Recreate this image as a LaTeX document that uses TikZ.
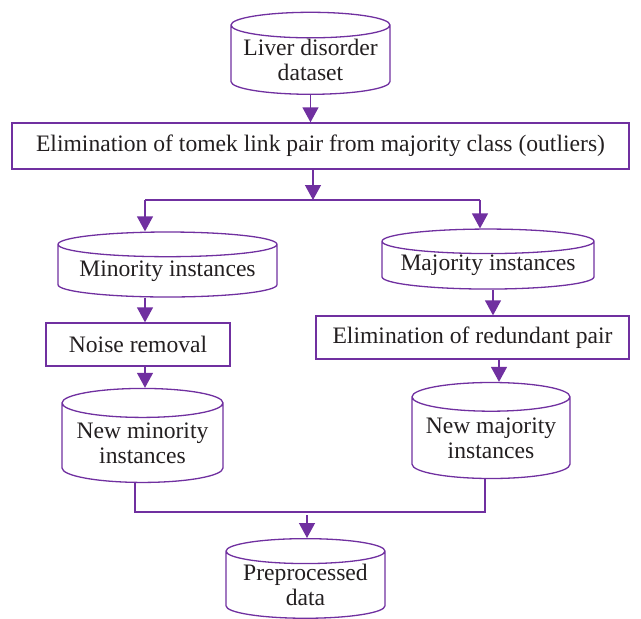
\documentclass[tikz,border=0pt]{standalone}
\usepackage{fontspec}
\setmainfont{Liberation Serif}
\usetikzlibrary{shapes.geometric,arrows.meta}
\definecolor{vio}{RGB}{112,48,160}
\definecolor{ink}{RGB}{35,31,32}

\begin{document}
\begin{tikzpicture}[x=1pt,y=-1pt,
    font=\fontsize{23.6}{25}\selectfont,
    every node/.style={text=ink, align=center},
    cyl/.style={cylinder, shape border rotate=90, draw=vio, line width=1.3pt, inner sep=0pt},
    box/.style={rectangle, draw=vio, line width=1.3pt, inner sep=0pt},
    link/.style={draw=vio, line width=1.3pt},
    arr/.style={link, -{Triangle[length=15pt,width=16pt]}}]

\useasboundingbox (0,0) rectangle (641,619);

% ===== Hộp và trụ =====
\node[cyl, aspect=0.19, minimum width=159pt, minimum height=82pt] (data) at (310.5,60) {Liver disorder\\dataset};

\node[box, minimum width=617pt, minimum height=46pt] (tomek) at (320.5,146) {Elimination of tomek link pair from majority class (outliers)};

\node[cyl, aspect=0.14, minimum width=219pt, minimum height=65pt] (minor) at (167.5,271) {Minority instances};
\node[cyl, aspect=0.14, minimum width=212pt, minimum height=60pt] (major) at (488,265.5) {Majority instances};

\node[box, minimum width=184pt, minimum height=43pt] (noise) at (138,344.5) {Noise removal};
\node[box, minimum width=313pt, minimum height=43pt] (redund) at (472.5,337.5) {Elimination of redundant pair};

\node[cyl, aspect=0.22, minimum width=161pt, minimum height=94pt] (newmin) at (142.5,443) {New minority\\instances};
\node[cyl, aspect=0.22, minimum width=158pt, minimum height=96pt] (newmaj) at (491,438) {New majority\\instances};

\node[cyl, aspect=0.2, minimum width=159pt, minimum height=78pt] (prep) at (305.5,585) {Preprocessed\\data};

% ===== Điểm nối =====
\coordinate (split) at (313,200);
\coordinate (bl) at (145,200);
\coordinate (br) at (480,200);
\coordinate (jl) at (135,512);
\coordinate (jr) at (485,512);
\coordinate (jm) at (307,515);

% ===== Mũi tên =====
\draw[arr] (data.south) -- (data.south |- tomek.north);
\draw[arr] (split |- tomek.south) -- (split);
\draw[link] (bl) -- (br);
\draw[arr] (bl) -- (bl |- minor.north);
\draw[arr] (br) -- (br |- major.north);

\draw[arr] (145,0 |- minor.south) -- (145,0 |- noise.north);
\draw[arr] (493,0 |- major.south) -- (493,0 |- redund.north);
\draw[arr] (145,0 |- noise.south) -- (145,0 |- newmin.north);
\draw[arr] (499,0 |- redund.south) -- (499,0 |- newmaj.north);

\draw[link] (jl |- newmin.south) -- (jl) -- (jr) -- (jr |- newmaj.south);
\draw[arr] (jm) -- (jm |- prep.north);

\end{tikzpicture}
\end{document}
